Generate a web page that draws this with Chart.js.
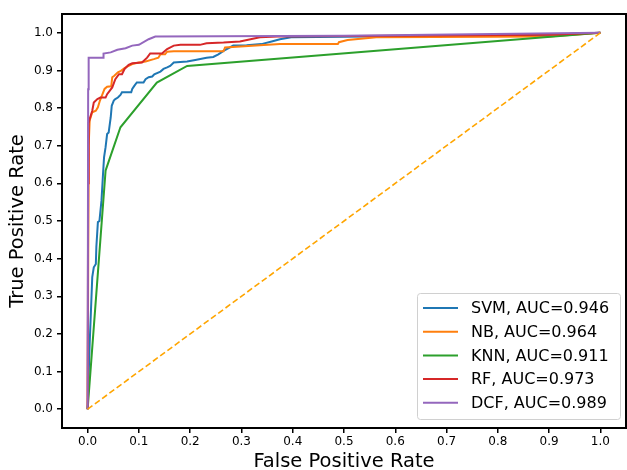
<!DOCTYPE html>
<html>
<head>
<meta charset="utf-8">
<script src="https://cdn.jsdelivr.net/npm/chart.js@4.4.1/dist/chart.umd.min.js"></script>
<style>
  html, body { margin: 0; padding: 0; background: #fff; }
  #wrap { width: 627px; height: 470px; }
</style>
</head>
<body>
<div id="wrap"><canvas id="roc" width="627" height="470"></canvas></div>
<script>
// ── ROC data ──────────────────────────────────────────────────
const xTicks = [0, 0.1, 0.2, 0.3, 0.4, 0.5, 0.6, 0.7, 0.8, 0.9, 1.0];
const yTicks = [0, 0.1, 0.2, 0.3, 0.4, 0.5, 0.6, 0.7, 0.8, 0.9, 1.0];

const svmFpr = [0, 0.002, 0.004, 0.007, 0.009, 0.012, 0.016, 0.017, 0.020, 0.023, 0.027, 0.030, 0.032, 0.035, 0.038, 0.041, 0.045, 0.047, 0.051, 0.054, 0.059, 0.064, 0.067, 0.085, 0.087, 0.091, 0.096, 0.109, 0.113, 0.119, 0.126, 0.130, 0.142, 0.148, 0.155, 0.161, 0.168, 0.194, 0.210, 0.232, 0.245, 0.255, 0.265, 0.284, 0.310, 0.339, 0.359, 0.375, 0.397, 0.550, 0.900, 1.0];
const svmTpr = [0, 0.090, 0.175, 0.280, 0.351, 0.377, 0.386, 0.431, 0.497, 0.500, 0.554, 0.625, 0.669, 0.696, 0.731, 0.735, 0.775, 0.806, 0.820, 0.824, 0.828, 0.835, 0.842, 0.842, 0.851, 0.859, 0.868, 0.868, 0.877, 0.882, 0.884, 0.890, 0.897, 0.904, 0.908, 0.912, 0.921, 0.924, 0.928, 0.934, 0.936, 0.943, 0.952, 0.966, 0.967, 0.970, 0.977, 0.983, 0.988, 0.990, 0.995, 1.0];

const nbFpr = [0, 0.002, 0.004, 0.009, 0.016, 0.020, 0.024, 0.029, 0.033, 0.038, 0.046, 0.048, 0.052, 0.059, 0.065, 0.072, 0.077, 0.087, 0.100, 0.113, 0.129, 0.138, 0.142, 0.151, 0.155, 0.168, 0.265, 0.268, 0.336, 0.375, 0.488, 0.490, 0.507, 0.563, 0.900, 1.0];
const nbTpr = [0, 0.700, 0.767, 0.789, 0.793, 0.802, 0.820, 0.837, 0.851, 0.857, 0.858, 0.882, 0.886, 0.895, 0.899, 0.906, 0.910, 0.917, 0.921, 0.924, 0.930, 0.934, 0.943, 0.943, 0.950, 0.951, 0.951, 0.961, 0.967, 0.970, 0.970, 0.975, 0.981, 0.988, 0.990, 1.0];

const knnFpr = [0, 0.035, 0.064, 0.135, 0.194, 1.0];
const knnTpr = [0, 0.634, 0.749, 0.868, 0.912, 1.0];

const rfFpr = [0, 0.001, 0.002, 0.004, 0.009, 0.012, 0.019, 0.025, 0.035, 0.038, 0.048, 0.054, 0.061, 0.067, 0.072, 0.080, 0.087, 0.106, 0.116, 0.122, 0.145, 0.155, 0.168, 0.181, 0.219, 0.232, 0.265, 0.297, 0.336, 0.370, 0.900, 1.0];
const rfTpr = [0, 0.600, 0.760, 0.771, 0.793, 0.815, 0.824, 0.828, 0.828, 0.837, 0.855, 0.877, 0.890, 0.890, 0.904, 0.915, 0.919, 0.921, 0.934, 0.945, 0.945, 0.957, 0.966, 0.968, 0.968, 0.972, 0.974, 0.977, 0.988, 0.990, 0.995, 1.0];

const dcfFpr = [0, 0.001, 0.002, 0.030, 0.031, 0.045, 0.058, 0.074, 0.087, 0.100, 0.119, 0.132, 0.500, 1.0];
const dcfTpr = [0, 0.850, 0.934, 0.934, 0.945, 0.948, 0.955, 0.959, 0.966, 0.968, 0.983, 0.990, 0.992, 1.0];

const chanceFpr = [0, 1];
const chanceTpr = [0, 1];

const seriesLabels = ['SVM, AUC=0.946', 'NB, AUC=0.964', 'KNN, AUC=0.911', 'RF, AUC=0.973', 'DCF, AUC=0.989'];
const seriesColors = ['#1f77b4', '#ff7f0e', '#2ca02c', '#d62728', '#9467bd'];

const FONT = "'DejaVu Sans', sans-serif";
const pts = (xs, ys) => xs.map((x, i) => ({ x, y: ys[i] }));

const curves = [
  pts(svmFpr, svmTpr), pts(nbFpr, nbTpr), pts(knnFpr, knnTpr),
  pts(rfFpr, rfTpr), pts(dcfFpr, dcfTpr),
];

// matplotlib draws later lines on top; Chart.js draws low "order" on top
const datasets = curves.map((data, i) => ({
  label: seriesLabels[i],
  data,
  borderColor: seriesColors[i],
  borderWidth: 2,
  pointRadius: 0,
  fill: false,
  tension: 0,
  order: 5 - i,
}));
datasets.push({
  label: 'chance',
  data: pts(chanceFpr, chanceTpr),
  borderColor: '#ffa500',
  borderWidth: 1.6,
  borderDash: [6, 3],
  pointRadius: 0,
  fill: false,
  order: 0,
});

// ── frame + in-axes legend ────────────────────────────────────
const framePlugin = {
  id: 'frame',
  afterDraw(chart) {
    const { ctx, chartArea: a } = chart;
    ctx.save();
    ctx.strokeStyle = '#000';
    ctx.lineWidth = 2;
    ctx.strokeRect(a.left, a.top, a.right - a.left, a.bottom - a.top);
    ctx.restore();
  },
};

const legendPlugin = {
  id: 'boxLegend',
  afterDraw(chart) {
    const { ctx, chartArea: a } = chart;
    const w = 203, h = 126, rowH = 23.7;
    const x0 = a.right - 6 - w, y0 = a.bottom - 9 - h;
    ctx.save();
    ctx.beginPath();
    ctx.roundRect(x0 + 0.5, y0 + 0.5, w, h, 3);
    ctx.fillStyle = 'rgba(255,255,255,0.8)';
    ctx.fill();
    ctx.strokeStyle = '#d0d0d0';
    ctx.lineWidth = 1;
    ctx.stroke();
    ctx.font = `16px ${FONT}`;
    ctx.textBaseline = 'middle';
    seriesLabels.forEach((lab, i) => {
      const cy = y0 + 15 + i * rowH;
      ctx.beginPath();
      ctx.moveTo(x0 + 6, cy);
      ctx.lineTo(x0 + 41, cy);
      ctx.strokeStyle = seriesColors[i];
      ctx.lineWidth = 2;
      ctx.stroke();
      ctx.fillStyle = '#000';
      ctx.fillText(lab, x0 + 54, cy + 1);
    });
    ctx.restore();
  },
};

const tickFmt = v => Number(v).toFixed(1);

new Chart(document.getElementById('roc'), {
  type: 'line',
  data: { datasets },
  options: {
    responsive: false,
    animation: false,
    events: [],
    layout: { padding: { top: 14, right: 1, left: 0, bottom: 0 } },
    plugins: { legend: { display: false }, tooltip: { enabled: false } },
    scales: {
      x: {
        type: 'linear', min: -0.05, max: 1.05,
        afterBuildTicks: s => { s.ticks = xTicks.map(v => ({ value: v })); },
        afterFit: s => { s.height = 42; },
        ticks: { callback: tickFmt, color: '#000', font: { family: FONT, size: 12 }, padding: 2, maxRotation: 0, autoSkip: false },
        grid: { display: true, drawOnChartArea: false, drawTicks: true, tickLength: 5, color: '#000', lineWidth: 1.5 },
        border: { display: false },
        title: { display: true, text: 'False Positive Rate', color: '#000', font: { family: FONT, size: 19.5 }, padding: { top: 0, bottom: -4 } },
      },
      y: {
        type: 'linear', min: -0.05, max: 1.05,
        afterBuildTicks: s => { s.ticks = yTicks.map(v => ({ value: v })); },
        afterFit: s => { s.width = 62; },
        ticks: { callback: tickFmt, color: '#000', font: { family: FONT, size: 12 }, padding: 4, autoSkip: false },
        grid: { display: true, drawOnChartArea: false, drawTicks: true, tickLength: 5, color: '#000', lineWidth: 1.5 },
        border: { display: false },
        title: { display: true, text: 'True Positive Rate', color: '#000', font: { family: FONT, size: 19.5 }, padding: { top: 6, bottom: 0 } },
      },
    },
  },
  plugins: [framePlugin, legendPlugin],
});
</script>
</body>
</html>
